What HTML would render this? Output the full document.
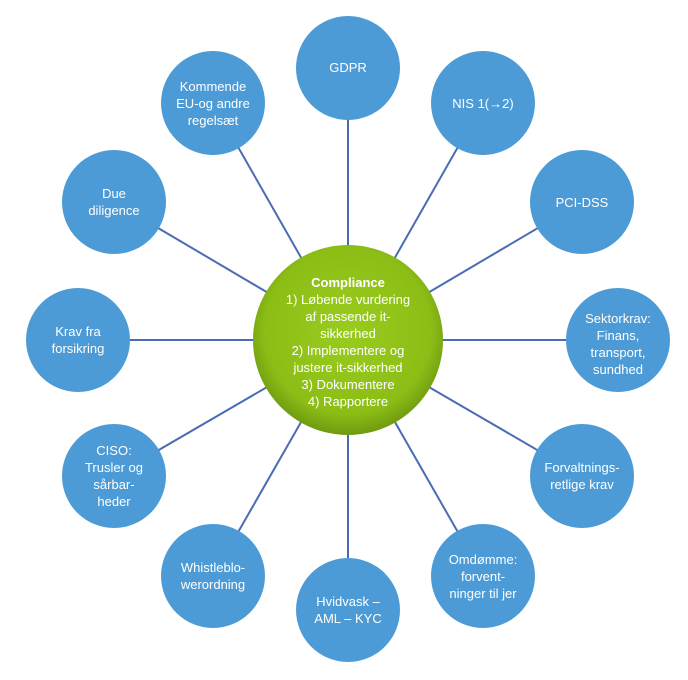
<!DOCTYPE html>
<html><head><meta charset="utf-8"><style>
body{margin:0;background:#fff;}
svg text{font-family:"Liberation Sans",sans-serif;fill:#fff;font-size:13px;text-anchor:middle;}
</style></head><body>
<svg width="688" height="675" viewBox="0 0 688 675" xmlns="http://www.w3.org/2000/svg">
<defs>
<radialGradient id="g" cx="50%" cy="45%" r="55%">
<stop offset="0" stop-color="#9acc1e"/><stop offset="0.8" stop-color="#8bbd16"/><stop offset="1" stop-color="#6f9a10"/>
</radialGradient>
</defs>
<g stroke="#4a6cb3" stroke-width="2">
<line x1="348" y1="340" x2="348" y2="68"/>
<line x1="348" y1="340" x2="483" y2="103"/>
<line x1="348" y1="340" x2="582" y2="202"/>
<line x1="348" y1="340" x2="618" y2="340"/>
<line x1="348" y1="340" x2="582" y2="476"/>
<line x1="348" y1="340" x2="483" y2="576"/>
<line x1="348" y1="340" x2="348" y2="610"/>
<line x1="348" y1="340" x2="213" y2="576"/>
<line x1="348" y1="340" x2="114" y2="476"/>
<line x1="348" y1="340" x2="78" y2="340"/>
<line x1="348" y1="340" x2="114" y2="202"/>
<line x1="348" y1="340" x2="213" y2="103"/>
</g>
<g fill="#4c9bd6">
<circle cx="348" cy="68" r="52"/>
<circle cx="483" cy="103" r="52"/>
<circle cx="582" cy="202" r="52"/>
<circle cx="618" cy="340" r="52"/>
<circle cx="582" cy="476" r="52"/>
<circle cx="483" cy="576" r="52"/>
<circle cx="348" cy="610" r="52"/>
<circle cx="213" cy="576" r="52"/>
<circle cx="114" cy="476" r="52"/>
<circle cx="78" cy="340" r="52"/>
<circle cx="114" cy="202" r="52"/>
<circle cx="213" cy="103" r="52"/>
</g>
<circle cx="348" cy="340" r="95" fill="url(#g)"/>
<text x="348" y="72">GDPR</text>
<text x="483" y="108">NIS 1(→2)</text>
<text x="582" y="207">PCI-DSS</text>
<text x="618" y="323">Sektorkrav:</text><text x="618" y="340">Finans,</text><text x="618" y="357">transport,</text><text x="618" y="374">sundhed</text>
<text x="582" y="472">Forvaltnings-</text><text x="582" y="489">retlige krav</text>
<text x="483" y="564">Omdømme:</text><text x="483" y="581">forvent-</text><text x="483" y="598">ninger til jer</text>
<text x="348" y="606">Hvidvask –</text><text x="348" y="623">AML – KYC</text>
<text x="213" y="572">Whistleblo-</text><text x="213" y="589">werordning</text>
<text x="114" y="455">CISO:</text><text x="114" y="472">Trusler og</text><text x="114" y="489">sårbar-</text><text x="114" y="506">heder</text>
<text x="78" y="336">Krav fra</text><text x="78" y="353">forsikring</text>
<text x="114" y="198">Due</text><text x="114" y="215">diligence</text>
<text x="213" y="91">Kommende</text><text x="213" y="108">EU-og andre</text><text x="213" y="125">regelsæt</text>
<g style="font-size:13.5px">
<text x="348" y="287" style="font-weight:bold">Compliance</text>
<text x="348" y="304">1) Løbende vurdering</text>
<text x="348" y="321">af passende it-</text>
<text x="348" y="338">sikkerhed</text>
<text x="348" y="355">2) Implementere og</text>
<text x="348" y="372">justere it-sikkerhed</text>
<text x="348" y="389">3) Dokumentere</text>
<text x="348" y="406">4) Rapportere</text>
</g>
</svg>
</body></html>
